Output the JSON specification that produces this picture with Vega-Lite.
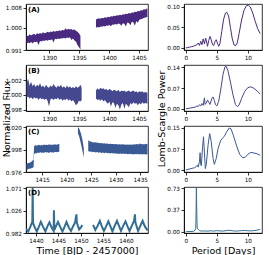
{
"$schema": "https://vega.github.io/schema/vega-lite/v6.json",
"padding": {"left": 0, "top": 3, "right": 0, "bottom": 0},
"columns": 2,
"spacing": {"row": 15, "column": 36},
"bounds": "flush",
"config": {
  "font": "DejaVu Sans",
  "view": {"stroke": "#000", "strokeWidth": 0.8},
  "axis": {"grid": false, "labelOverlap": false, "tickCount": 12, "labelFontSize": 5.7, "labelColor": "#000", "tickColor": "#000", "domainColor": "#000", "tickSize": 3, "tickWidth": 0.8, "domainWidth": 0.8, "labelPadding": 1.5, "titleFontSize": 9.5, "titleFontWeight": "normal", "titleColor": "#000"},
  "text": {"font": "DejaVu Sans"}
},
"datasets": {
  "lcA": [
    {"t":1386.2,"lo":0.9934,"hi":0.9970,"seg":1},{"t":1386.45,"lo":0.9940,"hi":0.9966,"seg":1},{"t":1386.7,"lo":0.9937,"hi":0.9974,"seg":1},{"t":1386.95,"lo":0.9942,"hi":0.9969,"seg":1},{"t":1387.2,"lo":0.9936,"hi":0.9973,"seg":1},{"t":1387.45,"lo":0.9943,"hi":0.9976,"seg":1},{"t":1387.7,"lo":0.9941,"hi":0.9971,"seg":1},{"t":1387.95,"lo":0.9944,"hi":0.9978,"seg":1},{"t":1388.2,"lo":0.9930,"hi":0.9975,"seg":1},{"t":1388.45,"lo":0.9946,"hi":0.9979,"seg":1},{"t":1388.7,"lo":0.9944,"hi":0.9976,"seg":1},{"t":1388.95,"lo":0.9948,"hi":0.9982,"seg":1},{"t":1389.2,"lo":0.9946,"hi":0.9978,"seg":1},{"t":1389.45,"lo":0.9950,"hi":0.9980,"seg":1},{"t":1389.7,"lo":0.9947,"hi":0.9984,"seg":1},{"t":1389.95,"lo":0.9951,"hi":0.9981,"seg":1},{"t":1390.2,"lo":0.9949,"hi":0.9985,"seg":1},{"t":1390.45,"lo":0.9953,"hi":0.9983,"seg":1},{"t":1390.7,"lo":0.9940,"hi":0.9987,"seg":1},{"t":1390.95,"lo":0.9955,"hi":0.9984,"seg":1},{"t":1391.2,"lo":0.9953,"hi":0.9988,"seg":1},{"t":1391.45,"lo":0.9956,"hi":0.9986,"seg":1},{"t":1391.7,"lo":0.9954,"hi":0.9990,"seg":1},{"t":1391.95,"lo":0.9958,"hi":0.9987,"seg":1},{"t":1392.2,"lo":0.9956,"hi":0.9992,"seg":1},{"t":1392.45,"lo":0.9960,"hi":0.9989,"seg":1},{"t":1392.7,"lo":0.9957,"hi":0.9998,"seg":1},{"t":1392.95,"lo":0.9961,"hi":0.9992,"seg":1},{"t":1393.2,"lo":0.9959,"hi":0.9996,"seg":1},{"t":1393.45,"lo":0.9962,"hi":0.9993,"seg":1},{"t":1393.7,"lo":0.9950,"hi":0.9995,"seg":1},{"t":1393.95,"lo":0.9956,"hi":0.9991,"seg":1},{"t":1394.2,"lo":0.9948,"hi":0.9993,"seg":1},{"t":1394.45,"lo":0.9944,"hi":0.9988,"seg":1},{"t":1394.7,"lo":0.9930,"hi":0.9984,"seg":1},{"t":1394.95,"lo":0.9922,"hi":0.9978,"seg":1},{"t":1395.2,"lo":0.9912,"hi":0.9968,"seg":1},
    {"t":1397.8,"lo":1.0000,"hi":1.0033,"seg":2},{"t":1398.05,"lo":1.0003,"hi":1.0036,"seg":2},{"t":1398.3,"lo":1.0001,"hi":1.0038,"seg":2},{"t":1398.55,"lo":1.0005,"hi":1.0036,"seg":2},{"t":1398.8,"lo":1.0004,"hi":1.0040,"seg":2},{"t":1399.05,"lo":1.0007,"hi":1.0038,"seg":2},{"t":1399.3,"lo":1.0005,"hi":1.0042,"seg":2},{"t":1399.55,"lo":1.0009,"hi":1.0040,"seg":2},{"t":1399.8,"lo":1.0008,"hi":1.0044,"seg":2},{"t":1400.05,"lo":1.0011,"hi":1.0042,"seg":2},{"t":1400.3,"lo":1.0006,"hi":1.0046,"seg":2},{"t":1400.55,"lo":1.0013,"hi":1.0045,"seg":2},{"t":1400.8,"lo":1.0012,"hi":1.0048,"seg":2},{"t":1401.05,"lo":1.0015,"hi":1.0047,"seg":2},{"t":1401.3,"lo":1.0013,"hi":1.0051,"seg":2},{"t":1401.55,"lo":1.0017,"hi":1.0049,"seg":2},{"t":1401.8,"lo":1.0015,"hi":1.0053,"seg":2},{"t":1402.05,"lo":1.0008,"hi":1.0051,"seg":2},{"t":1402.3,"lo":1.0018,"hi":1.0055,"seg":2},{"t":1402.55,"lo":1.0016,"hi":1.0054,"seg":2},{"t":1402.8,"lo":1.0005,"hi":1.0057,"seg":2},{"t":1403.05,"lo":1.0021,"hi":1.0056,"seg":2},{"t":1403.3,"lo":1.0019,"hi":1.0060,"seg":2},{"t":1403.55,"lo":1.0010,"hi":1.0058,"seg":2},{"t":1403.8,"lo":1.0024,"hi":1.0062,"seg":2},{"t":1404.05,"lo":1.0022,"hi":1.0061,"seg":2},{"t":1404.3,"lo":1.0008,"hi":1.0065,"seg":2},{"t":1404.55,"lo":1.0027,"hi":1.0064,"seg":2},{"t":1404.8,"lo":1.0020,"hi":1.0068,"seg":2},{"t":1405.05,"lo":1.0032,"hi":1.0067,"seg":2},{"t":1405.3,"lo":1.0034,"hi":1.0071,"seg":2},{"t":1405.55,"lo":1.0036,"hi":1.0070,"seg":2},{"t":1405.8,"lo":1.0039,"hi":1.0075,"seg":2},{"t":1406.05,"lo":1.0041,"hi":1.0074,"seg":2},{"t":1406.4,"lo":1.0043,"hi":1.0079,"seg":2}
  ],
  "lcB": [
    {"t":1386.2,"lo":0.9996,"hi":1.0016,"seg":1},{"t":1386.45,"lo":0.9998,"hi":1.0022,"seg":1},{"t":1386.7,"lo":0.9995,"hi":1.0013,"seg":1},{"t":1386.95,"lo":0.9997,"hi":1.0018,"seg":1},{"t":1387.2,"lo":0.9994,"hi":1.0012,"seg":1},{"t":1387.45,"lo":0.9997,"hi":1.0015,"seg":1},{"t":1387.7,"lo":0.9995,"hi":1.0011,"seg":1},{"t":1387.95,"lo":0.9996,"hi":1.0014,"seg":1},{"t":1388.2,"lo":0.9993,"hi":1.0012,"seg":1},{"t":1388.45,"lo":0.9996,"hi":1.0016,"seg":1},{"t":1388.7,"lo":0.9994,"hi":1.0011,"seg":1},{"t":1388.95,"lo":0.9995,"hi":1.0013,"seg":1},{"t":1389.2,"lo":0.9993,"hi":1.0010,"seg":1},{"t":1389.45,"lo":0.9995,"hi":1.0014,"seg":1},{"t":1389.7,"lo":0.9992,"hi":1.0011,"seg":1},{"t":1389.95,"lo":0.9984,"hi":1.0010,"seg":1},{"t":1390.2,"lo":0.9994,"hi":1.0013,"seg":1},{"t":1390.45,"lo":0.9995,"hi":1.0011,"seg":1},{"t":1390.7,"lo":0.9993,"hi":1.0015,"seg":1},{"t":1390.95,"lo":0.9995,"hi":1.0012,"seg":1},{"t":1391.2,"lo":0.9994,"hi":1.0010,"seg":1},{"t":1391.45,"lo":0.9996,"hi":1.0013,"seg":1},{"t":1391.7,"lo":0.9993,"hi":1.0011,"seg":1},{"t":1391.95,"lo":0.9995,"hi":1.0014,"seg":1},{"t":1392.2,"lo":0.9992,"hi":1.0010,"seg":1},{"t":1392.45,"lo":0.9994,"hi":1.0012,"seg":1},{"t":1392.7,"lo":0.9993,"hi":1.0009,"seg":1},{"t":1392.95,"lo":0.9995,"hi":1.0013,"seg":1},{"t":1393.2,"lo":0.9992,"hi":1.0010,"seg":1},{"t":1393.45,"lo":0.9994,"hi":1.0012,"seg":1},{"t":1393.7,"lo":0.9991,"hi":1.0009,"seg":1},{"t":1393.95,"lo":0.9993,"hi":1.0011,"seg":1},{"t":1394.2,"lo":0.9990,"hi":1.0009,"seg":1},{"t":1394.45,"lo":0.9986,"hi":1.0012,"seg":1},{"t":1394.7,"lo":0.9988,"hi":1.0010,"seg":1},{"t":1394.95,"lo":0.9992,"hi":1.0011,"seg":1},{"t":1395.2,"lo":0.9991,"hi":1.0014,"seg":1},{"t":1395.4,"lo":0.9993,"hi":1.0010,"seg":1},
    {"t":1397.8,"lo":0.9995,"hi":1.0006,"seg":2},{"t":1398.05,"lo":0.9993,"hi":1.0009,"seg":2},{"t":1398.3,"lo":0.9994,"hi":1.0007,"seg":2},{"t":1398.55,"lo":0.9992,"hi":1.0010,"seg":2},{"t":1398.8,"lo":0.9994,"hi":1.0008,"seg":2},{"t":1399.05,"lo":0.9991,"hi":1.0009,"seg":2},{"t":1399.3,"lo":0.9993,"hi":1.0007,"seg":2},{"t":1399.55,"lo":0.9990,"hi":1.0008,"seg":2},{"t":1399.8,"lo":0.9988,"hi":1.0006,"seg":2},{"t":1400.05,"lo":0.9991,"hi":1.0008,"seg":2},{"t":1400.3,"lo":0.9984,"hi":1.0007,"seg":2},{"t":1400.55,"lo":0.9990,"hi":1.0005,"seg":2},{"t":1400.8,"lo":0.9989,"hi":1.0007,"seg":2},{"t":1401.05,"lo":0.9982,"hi":1.0006,"seg":2},{"t":1401.3,"lo":0.9988,"hi":1.0005,"seg":2},{"t":1401.55,"lo":0.9986,"hi":1.0007,"seg":2},{"t":1401.8,"lo":0.9980,"hi":1.0004,"seg":2},{"t":1402.05,"lo":0.9987,"hi":1.0006,"seg":2},{"t":1402.3,"lo":0.9989,"hi":1.0005,"seg":2},{"t":1402.55,"lo":0.9981,"hi":1.0006,"seg":2},{"t":1402.8,"lo":0.9988,"hi":1.0004,"seg":2},{"t":1403.05,"lo":0.9986,"hi":1.0005,"seg":2},{"t":1403.3,"lo":0.9983,"hi":1.0006,"seg":2},{"t":1403.55,"lo":0.9989,"hi":1.0004,"seg":2},{"t":1403.8,"lo":0.9987,"hi":1.0005,"seg":2},{"t":1404.05,"lo":0.9990,"hi":1.0006,"seg":2},{"t":1404.3,"lo":0.9988,"hi":1.0004,"seg":2},{"t":1404.55,"lo":0.9989,"hi":1.0005,"seg":2},{"t":1404.8,"lo":0.9986,"hi":1.0003,"seg":2},{"t":1405.05,"lo":0.9989,"hi":1.0005,"seg":2},{"t":1405.3,"lo":0.9987,"hi":1.0004,"seg":2},{"t":1405.55,"lo":0.9990,"hi":1.0005,"seg":2},{"t":1405.8,"lo":0.9988,"hi":1.0003,"seg":2},{"t":1406.05,"lo":0.9989,"hi":1.0004,"seg":2},{"t":1406.4,"lo":0.9988,"hi":1.0003,"seg":2}
  ],
  "lcC": [
    {"t":1411.8,"lo":0.9780,"hi":0.9840,"seg":1},{"t":1412.2,"lo":0.9790,"hi":0.9848,"seg":1},{"t":1412.6,"lo":0.9795,"hi":0.9852,"seg":1},{"t":1413.0,"lo":0.9800,"hi":0.9870,"seg":1},{"t":1413.25,"lo":0.9810,"hi":0.9880,"seg":1},{"t":1413.35,"lo":0.9930,"hi":1.0010,"seg":1},{"t":1413.6,"lo":0.9945,"hi":1.0025,"seg":1},{"t":1413.85,"lo":0.9940,"hi":1.0018,"seg":1},{"t":1414.1,"lo":0.9950,"hi":1.0022,"seg":1},{"t":1414.35,"lo":0.9946,"hi":1.0027,"seg":1},{"t":1414.6,"lo":0.9952,"hi":1.0020,"seg":1},{"t":1414.85,"lo":0.9948,"hi":1.0024,"seg":1},{"t":1415.1,"lo":0.9950,"hi":1.0022,"seg":1},{"t":1415.35,"lo":0.9945,"hi":1.0030,"seg":1},{"t":1415.6,"lo":0.9955,"hi":1.0024,"seg":1},{"t":1415.85,"lo":0.9950,"hi":1.0026,"seg":1},{"t":1416.1,"lo":0.9952,"hi":1.0023,"seg":1},{"t":1416.35,"lo":0.9947,"hi":1.0028,"seg":1},{"t":1416.6,"lo":0.9956,"hi":1.0030,"seg":1},{"t":1416.85,"lo":0.9951,"hi":1.0025,"seg":1},{"t":1417.1,"lo":0.9953,"hi":1.0029,"seg":1},{"t":1417.35,"lo":0.9948,"hi":1.0026,"seg":1},{"t":1417.6,"lo":0.9957,"hi":1.0032,"seg":1},{"t":1417.85,"lo":0.9952,"hi":1.0027,"seg":1},{"t":1418.1,"lo":0.9955,"hi":1.0030,"seg":1},{"t":1418.5,"lo":0.9958,"hi":1.0036,"seg":1},
    {"t":1422.3,"lo":1.0140,"hi":1.0200,"seg":2},{"t":1422.6,"lo":1.0100,"hi":1.0180,"seg":2},{"t":1422.9,"lo":1.0040,"hi":1.0140,"seg":2},{"t":1423.2,"lo":0.9970,"hi":1.0080,"seg":2},{"t":1423.5,"lo":0.9900,"hi":0.9990,"seg":2},
    {"t":1424.4,"lo":0.9965,"hi":1.0070,"seg":3},{"t":1424.7,"lo":0.9958,"hi":1.0060,"seg":3},{"t":1425.0,"lo":0.9960,"hi":1.0055,"seg":3},{"t":1425.3,"lo":0.9952,"hi":1.0052,"seg":3},{"t":1425.6,"lo":0.9958,"hi":1.0049,"seg":3},{"t":1425.9,"lo":0.9950,"hi":1.0050,"seg":3},{"t":1426.2,"lo":0.9955,"hi":1.0046,"seg":3},{"t":1426.5,"lo":0.9948,"hi":1.0047,"seg":3},{"t":1426.8,"lo":0.9952,"hi":1.0042,"seg":3},{"t":1427.1,"lo":0.9946,"hi":1.0044,"seg":3},{"t":1427.4,"lo":0.9950,"hi":1.0040,"seg":3},{"t":1427.7,"lo":0.9944,"hi":1.0041,"seg":3},{"t":1428.0,"lo":0.9950,"hi":1.0037,"seg":3},{"t":1428.3,"lo":0.9943,"hi":1.0039,"seg":3},{"t":1428.6,"lo":0.9947,"hi":1.0035,"seg":3},{"t":1428.9,"lo":0.9941,"hi":1.0036,"seg":3},{"t":1429.2,"lo":0.9945,"hi":1.0033,"seg":3},{"t":1429.5,"lo":0.9940,"hi":1.0035,"seg":3},{"t":1429.8,"lo":0.9944,"hi":1.0031,"seg":3},{"t":1430.1,"lo":0.9938,"hi":1.0033,"seg":3},{"t":1430.4,"lo":0.9942,"hi":1.0030,"seg":3},{"t":1430.7,"lo":0.9937,"hi":1.0032,"seg":3},{"t":1431.0,"lo":0.9942,"hi":1.0029,"seg":3},{"t":1431.3,"lo":0.9936,"hi":1.0031,"seg":3},{"t":1431.6,"lo":0.9940,"hi":1.0028,"seg":3},{"t":1431.9,"lo":0.9935,"hi":1.0030,"seg":3},{"t":1432.2,"lo":0.9939,"hi":1.0027,"seg":3},{"t":1432.5,"lo":0.9934,"hi":1.0029,"seg":3},{"t":1432.8,"lo":0.9938,"hi":1.0026,"seg":3},{"t":1433.1,"lo":0.9933,"hi":1.0030,"seg":3},{"t":1433.4,"lo":0.9937,"hi":1.0027,"seg":3},{"t":1433.7,"lo":0.9932,"hi":1.0031,"seg":3},{"t":1434.0,"lo":0.9937,"hi":1.0028,"seg":3},{"t":1434.3,"lo":0.9933,"hi":1.0033,"seg":3},{"t":1434.6,"lo":0.9936,"hi":1.0029,"seg":3},{"t":1434.9,"lo":0.9931,"hi":1.0040,"seg":3},{"t":1435.2,"lo":0.9935,"hi":1.0031,"seg":3},{"t":1435.5,"lo":0.9932,"hi":1.0034,"seg":3},{"t":1435.8,"lo":0.9936,"hi":1.0030,"seg":3},{"t":1436.1,"lo":0.9931,"hi":1.0036,"seg":3},{"t":1436.5,"lo":0.9934,"hi":1.0031,"seg":3}
  ],
  "lcD": [
    {"t":1437.8,"f":0.990,"seg":1},{"t":1438.3,"f":0.985,"seg":1},{"t":1438.8,"f":0.995,"seg":1},{"t":1439.2,"f":1.004,"seg":1},{"t":1439.28,"f":1.071,"seg":1},{"t":1439.36,"f":1.002,"seg":1},{"t":1439.7,"f":0.994,"seg":1},{"t":1440.2,"f":0.985,"seg":1},{"t":1440.7,"f":0.995,"seg":1},{"t":1441.1,"f":1.004,"seg":1},{"t":1441.6,"f":0.994,"seg":1},{"t":1442.1,"f":0.985,"seg":1},{"t":1442.6,"f":0.996,"seg":1},{"t":1443.0,"f":1.003,"seg":1},{"t":1443.5,"f":0.993,"seg":1},{"t":1443.95,"f":0.986,"seg":1},{"t":1444.0,"f":1.027,"seg":1},{"t":1444.1,"f":0.988,"seg":1},{"t":1444.5,"f":0.996,"seg":1},{"t":1444.9,"f":1.004,"seg":1},{"t":1445.4,"f":0.994,"seg":1},{"t":1445.9,"f":0.985,"seg":1},{"t":1446.4,"f":0.995,"seg":1},{"t":1446.8,"f":1.004,"seg":1},{"t":1447.3,"f":0.993,"seg":1},{"t":1447.8,"f":0.986,"seg":1},{"t":1448.3,"f":0.996,"seg":1},{"t":1448.7,"f":1.003,"seg":1},{"t":1449.0,"f":1.019,"seg":1},{"t":1449.1,"f":1.002,"seg":1},{"t":1449.6,"f":0.989,"seg":1},{"t":1450.0,"f":0.993,"seg":1},{"t":1450.3,"f":0.998,"seg":1},
    {"t":1452.7,"f":0.998,"seg":2},{"t":1453.2,"f":0.988,"seg":2},{"t":1453.7,"f":0.996,"seg":2},{"t":1454.2,"f":1.006,"seg":2},{"t":1454.6,"f":0.996,"seg":2},{"t":1455.1,"f":0.986,"seg":2},{"t":1455.6,"f":0.995,"seg":2},{"t":1456.1,"f":1.005,"seg":2},{"t":1456.6,"f":0.994,"seg":2},{"t":1457.0,"f":0.985,"seg":2},{"t":1457.5,"f":0.996,"seg":2},{"t":1458.0,"f":1.006,"seg":2},{"t":1458.5,"f":0.995,"seg":2},{"t":1458.9,"f":0.986,"seg":2},{"t":1459.4,"f":0.996,"seg":2},{"t":1459.9,"f":1.005,"seg":2},{"t":1460.4,"f":0.994,"seg":2},{"t":1460.8,"f":0.986,"seg":2},{"t":1461.3,"f":0.996,"seg":2},{"t":1461.8,"f":1.006,"seg":2},{"t":1462.0,"f":1.019,"seg":2},{"t":1462.1,"f":1.003,"seg":2},{"t":1462.7,"f":0.986,"seg":2},{"t":1463.2,"f":0.996,"seg":2},{"t":1463.7,"f":1.006,"seg":2},{"t":1464.2,"f":0.995,"seg":2},{"t":1464.8,"f":0.987,"seg":2}
  ],
  "pgA": [
    {"p":0.0,"w":0.000},{"p":0.3,"w":0.001},{"p":0.6,"w":0.002},{"p":0.9,"w":0.003},{"p":1.2,"w":0.004},{"p":1.5,"w":0.006},{"p":1.8,"w":0.008},{"p":2.0,"w":0.012},{"p":2.2,"w":0.006},{"p":2.4,"w":0.016},{"p":2.6,"w":0.008},{"p":2.8,"w":0.022},{"p":3.0,"w":0.010},{"p":3.2,"w":0.024},{"p":3.4,"w":0.012},{"p":3.5,"w":0.004},{"p":3.7,"w":0.018},{"p":3.9,"w":0.028},{"p":4.1,"w":0.020},{"p":4.3,"w":0.008},{"p":4.5,"w":0.006},{"p":4.7,"w":0.015},{"p":4.9,"w":0.020},{"p":5.1,"w":0.012},{"p":5.3,"w":0.004},{"p":5.5,"w":0.010},{"p":5.8,"w":0.040},{"p":6.1,"w":0.070},{"p":6.4,"w":0.085},{"p":6.6,"w":0.087},{"p":6.9,"w":0.078},{"p":7.2,"w":0.050},{"p":7.5,"w":0.022},{"p":7.8,"w":0.007},{"p":8.0,"w":0.005},{"p":8.3,"w":0.012},{"p":8.6,"w":0.035},{"p":9.0,"w":0.068},{"p":9.4,"w":0.092},{"p":9.8,"w":0.103},{"p":10.1,"w":0.104},{"p":10.4,"w":0.100},{"p":10.8,"w":0.085},{"p":11.2,"w":0.065},{"p":11.6,"w":0.047},{"p":12.0,"w":0.035}
  ],
  "pgB": [
    {"p":0.0,"w":0.000},{"p":0.5,"w":0.002},{"p":1.0,"w":0.004},{"p":1.5,"w":0.006},{"p":1.8,"w":0.010},{"p":2.0,"w":0.008},{"p":2.2,"w":0.014},{"p":2.4,"w":0.010},{"p":2.6,"w":0.018},{"p":2.8,"w":0.012},{"p":3.0,"w":0.037},{"p":3.1,"w":0.015},{"p":3.3,"w":0.020},{"p":3.5,"w":0.030},{"p":3.7,"w":0.022},{"p":3.9,"w":0.015},{"p":4.2,"w":0.035},{"p":4.4,"w":0.040},{"p":4.6,"w":0.028},{"p":4.8,"w":0.014},{"p":5.0,"w":0.010},{"p":5.3,"w":0.025},{"p":5.6,"w":0.060},{"p":6.0,"w":0.115},{"p":6.3,"w":0.140},{"p":6.5,"w":0.143},{"p":6.8,"w":0.128},{"p":7.2,"w":0.090},{"p":7.6,"w":0.048},{"p":8.0,"w":0.015},{"p":8.3,"w":0.008},{"p":8.6,"w":0.013},{"p":9.0,"w":0.035},{"p":9.5,"w":0.058},{"p":10.0,"w":0.071},{"p":10.5,"w":0.074},{"p":11.0,"w":0.069},{"p":11.5,"w":0.060},{"p":12.0,"w":0.050}
  ],
  "pgC": [
    {"p":0.0,"w":0.000},{"p":0.5,"w":0.003},{"p":1.0,"w":0.006},{"p":1.4,"w":0.008},{"p":1.7,"w":0.012},{"p":1.9,"w":0.018},{"p":2.0,"w":0.010},{"p":2.2,"w":0.030},{"p":2.3,"w":0.061},{"p":2.4,"w":0.020},{"p":2.5,"w":0.015},{"p":2.7,"w":0.080},{"p":2.85,"w":0.117},{"p":3.0,"w":0.060},{"p":3.15,"w":0.005},{"p":3.3,"w":0.020},{"p":3.6,"w":0.090},{"p":3.85,"w":0.128},{"p":4.1,"w":0.100},{"p":4.4,"w":0.040},{"p":4.6,"w":0.020},{"p":4.9,"w":0.040},{"p":5.2,"w":0.075},{"p":5.6,"w":0.103},{"p":5.9,"w":0.112},{"p":6.2,"w":0.118},{"p":6.6,"w":0.135},{"p":7.0,"w":0.148},{"p":7.3,"w":0.145},{"p":7.7,"w":0.120},{"p":8.2,"w":0.085},{"p":8.7,"w":0.055},{"p":9.2,"w":0.043},{"p":9.6,"w":0.045},{"p":10.0,"w":0.055},{"p":10.5,"w":0.062},{"p":11.0,"w":0.060},{"p":11.5,"w":0.057},{"p":12.0,"w":0.052}
  ],
  "pgD": [
    {"p":0.0,"w":0.002},{"p":0.5,"w":0.004},{"p":1.0,"w":0.006},{"p":1.3,"w":0.010},{"p":1.5,"w":0.030},{"p":1.6,"w":0.060},{"p":1.65,"w":0.300},{"p":1.7,"w":0.730},{"p":1.76,"w":0.350},{"p":1.82,"w":0.080},{"p":1.9,"w":0.050},{"p":2.0,"w":0.040},{"p":2.2,"w":0.020},{"p":2.5,"w":0.012},{"p":3.0,"w":0.015},{"p":3.5,"w":0.010},{"p":4.0,"w":0.018},{"p":4.5,"w":0.012},{"p":5.0,"w":0.020},{"p":5.5,"w":0.015},{"p":6.0,"w":0.012},{"p":6.5,"w":0.020},{"p":7.0,"w":0.025},{"p":7.5,"w":0.018},{"p":8.0,"w":0.012},{"p":8.5,"w":0.015},{"p":9.0,"w":0.020},{"p":9.5,"w":0.022},{"p":10.0,"w":0.018},{"p":10.5,"w":0.015},{"p":11.0,"w":0.020},{"p":11.5,"w":0.028},{"p":12.0,"w":0.040}
  ]
},
"concat": [
  {"width": 122, "height": 46,
   "layer": [
    {"data": {"name": "lcA"}, "mark": {"type": "area", "color": "#4a2a80", "clip": true},
     "encoding": {
      "x": {"field": "t", "type": "quantitative", "scale": {"domain": [1386.1, 1406.5], "nice": false, "zero": false}, "axis": {"values": [1390, 1395, 1400, 1405], "tickCount": 12, "format": "d", "title": null, "labelOverlap": false}},
      "y": {"field": "lo", "type": "quantitative", "scale": {"domain": [0.991, 1.0096], "nice": false, "zero": false}, "axis": {"values": [0.991, 1.0, 1.008], "tickCount": 12, "format": ".3f", "title": null, "labelOverlap": false}},
      "y2": {"field": "hi"}, "detail": {"field": "seg"}}},
    {"data": {"values": [{"label": "(A)"}]}, "mark": {"type": "text", "fontWeight": "bold", "fontSize": 7, "align": "left", "baseline": "top", "dx": 2, "dy": 2},
     "encoding": {"x": {"datum": 1386.1}, "y": {"datum": 1.0096}, "text": {"field": "label"}}}
   ]},
  {"width": 78, "height": 46, "data": {"name": "pgA"},
   "mark": {"type": "line", "color": "#4a2a80", "strokeWidth": 1, "clip": true},
   "encoding": {
    "x": {"field": "p", "type": "quantitative", "scale": {"domain": [-0.3, 12.3], "nice": false, "zero": false}, "axis": {"values": [0, 5, 10], "tickCount": 12, "title": null, "labelOverlap": false}},
    "y": {"field": "w", "type": "quantitative", "scale": {"domain": [-0.005, 0.107], "nice": false, "zero": false}, "axis": {"values": [0, 0.05, 0.1], "tickCount": 12, "format": ".2f", "title": null, "labelOverlap": false}}}},
  {"width": 122, "height": 46,
   "layer": [
    {"data": {"name": "lcB"}, "mark": {"type": "area", "color": "#45478f", "clip": true},
     "encoding": {
      "x": {"field": "t", "type": "quantitative", "scale": {"domain": [1386.1, 1406.5], "nice": false, "zero": false}, "axis": {"values": [1390, 1395, 1400, 1405], "tickCount": 12, "format": "d", "title": null, "labelOverlap": false}},
      "y": {"field": "lo", "type": "quantitative", "scale": {"domain": [0.9978, 1.0041], "nice": false, "zero": false}, "axis": {"values": [0.998, 1.0, 1.002], "tickCount": 12, "format": ".3f", "title": "Normalized Flux", "titleY": 53.5, "titlePadding": -6, "labelOverlap": false}},
      "y2": {"field": "hi"}, "detail": {"field": "seg"}}},
    {"data": {"values": [{"label": "(B)"}]}, "mark": {"type": "text", "fontWeight": "bold", "fontSize": 7, "align": "left", "baseline": "top", "dx": 2, "dy": 2},
     "encoding": {"x": {"datum": 1386.1}, "y": {"datum": 1.0041}, "text": {"field": "label"}}}
   ]},
  {"width": 78, "height": 46, "data": {"name": "pgB"},
   "mark": {"type": "line", "color": "#45478f", "strokeWidth": 1, "clip": true},
   "encoding": {
    "x": {"field": "p", "type": "quantitative", "scale": {"domain": [-0.3, 12.3], "nice": false, "zero": false}, "axis": {"values": [0, 5, 10], "tickCount": 12, "title": null, "labelOverlap": false}},
    "y": {"field": "w", "type": "quantitative", "scale": {"domain": [-0.007, 0.147], "nice": false, "zero": false}, "axis": {"values": [0, 0.07, 0.14], "tickCount": 12, "format": ".2f", "title": "Lomb-Scargle Power", "titleY": 53.5, "titlePadding": 0, "labelOverlap": false}}}},
  {"width": 122, "height": 46,
   "layer": [
    {"data": {"name": "lcC"}, "mark": {"type": "area", "color": "#3a5a96", "clip": true},
     "encoding": {
      "x": {"field": "t", "type": "quantitative", "scale": {"domain": [1411.7, 1436.6], "nice": false, "zero": false}, "axis": {"values": [1415, 1420, 1425, 1430, 1435], "tickCount": 12, "format": "d", "title": null, "labelOverlap": false}},
      "y": {"field": "lo", "type": "quantitative", "scale": {"domain": [0.976, 1.021], "nice": false, "zero": false}, "axis": {"values": [0.976, 0.998, 1.02], "tickCount": 12, "format": ".3f", "title": null, "labelOverlap": false}},
      "y2": {"field": "hi"}, "detail": {"field": "seg"}}},
    {"data": {"values": [{"label": "(C)"}]}, "mark": {"type": "text", "fontWeight": "bold", "fontSize": 7, "align": "left", "baseline": "top", "dx": 2, "dy": 2},
     "encoding": {"x": {"datum": 1411.7}, "y": {"datum": 1.021}, "text": {"field": "label"}}}
   ]},
  {"width": 78, "height": 46, "data": {"name": "pgC"},
   "mark": {"type": "line", "color": "#3a5a96", "strokeWidth": 1, "clip": true},
   "encoding": {
    "x": {"field": "p", "type": "quantitative", "scale": {"domain": [-0.3, 12.3], "nice": false, "zero": false}, "axis": {"values": [0, 5, 10], "tickCount": 12, "title": null, "labelOverlap": false}},
    "y": {"field": "w", "type": "quantitative", "scale": {"domain": [-0.007, 0.155], "nice": false, "zero": false}, "axis": {"values": [0, 0.074, 0.148], "tickCount": 12, "format": ".2f", "title": null, "labelOverlap": false}}}},
  {"width": 122, "height": 46,
   "layer": [
    {"data": {"name": "lcD"}, "mark": {"type": "line", "color": "#336e95", "strokeWidth": 2, "clip": true},
     "encoding": {
      "x": {"field": "t", "type": "quantitative", "scale": {"domain": [1437.8, 1464.9], "nice": false, "zero": false}, "axis": {"values": [1440, 1445, 1450, 1455, 1460], "tickCount": 12, "format": "d", "title": "Time [BJD - 2457000]", "titlePadding": 2, "labelOverlap": false}},
      "y": {"field": "f", "type": "quantitative", "scale": {"domain": [0.982, 1.073], "nice": false, "zero": false}, "axis": {"values": [0.982, 1.026, 1.071], "tickCount": 12, "format": ".3f", "title": null, "labelOverlap": false}},
      "detail": {"field": "seg"}}},
    {"data": {"values": [{"label": "(D)"}]}, "mark": {"type": "text", "fontWeight": "bold", "fontSize": 7, "align": "left", "baseline": "top", "dx": 2, "dy": 2},
     "encoding": {"x": {"datum": 1437.8}, "y": {"datum": 1.073}, "text": {"field": "label"}}}
   ]},
  {"width": 78, "height": 46, "data": {"name": "pgD"},
   "mark": {"type": "line", "color": "#336e95", "strokeWidth": 1, "clip": true},
   "encoding": {
    "x": {"field": "p", "type": "quantitative", "scale": {"domain": [-0.3, 12.3], "nice": false, "zero": false}, "axis": {"values": [0, 5, 10], "tickCount": 12, "title": "Period [Days]", "titlePadding": 2, "labelOverlap": false}},
    "y": {"field": "w", "type": "quantitative", "scale": {"domain": [-0.02, 0.75], "nice": false, "zero": false}, "axis": {"values": [0, 0.366, 0.73], "tickCount": 12, "format": ".2f", "title": null, "labelOverlap": false}}}}
]
}
